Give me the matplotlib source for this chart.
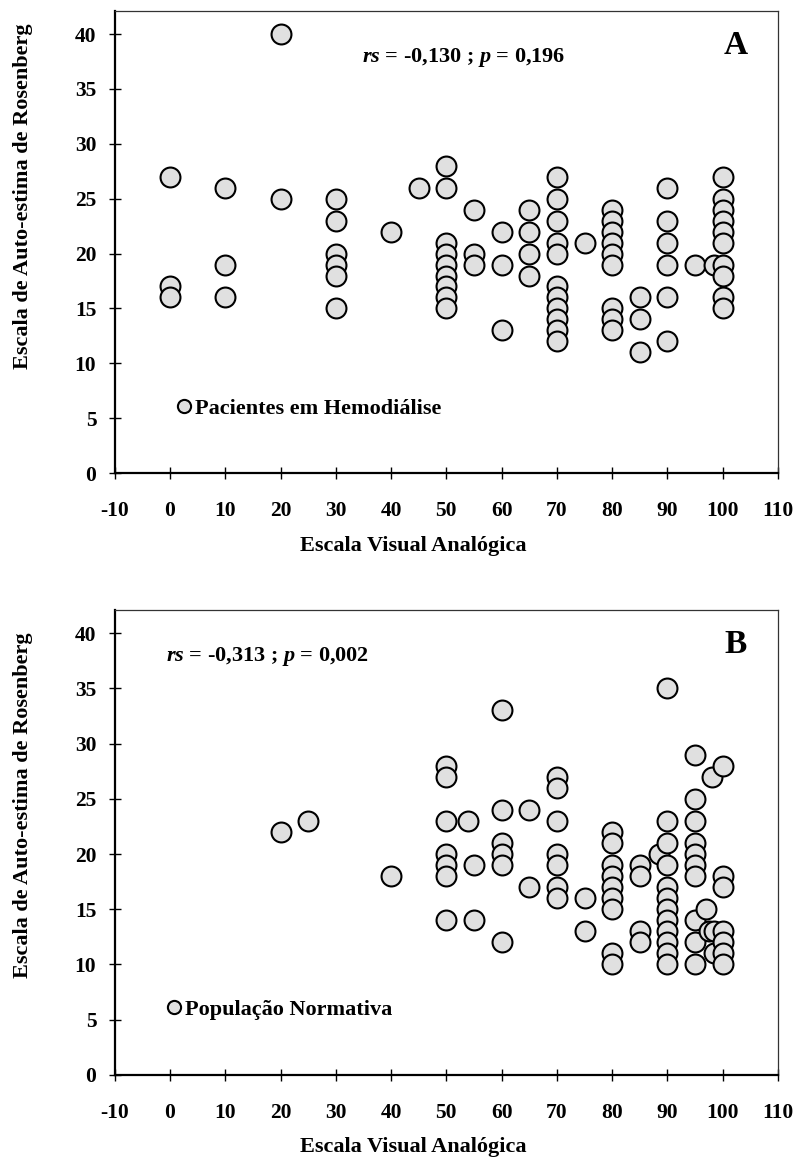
import matplotlib
matplotlib.use("Agg")
import matplotlib.pyplot as plt
from matplotlib.lines import Line2D

plt.rcParams["font.family"] = "Liberation Serif"
plt.rcParams["font.weight"] = "bold"
plt.rcParams["axes.unicode_minus"] = False
plt.rcParams["mathtext.fontset"] = "custom"
plt.rcParams["mathtext.it"] = "Liberation Serif:italic:bold"
plt.rcParams["mathtext.rm"] = "Liberation Serif:bold"

# Panel A - Pacientes em Hemodiálise
eva_a = [0, 0, 0, 10, 10, 10, 20, 20, 30, 30, 30, 30, 30, 30, 40, 45,
         50, 50, 50, 50, 50, 50, 50, 50, 50, 55, 55, 55, 60, 60, 60, 65, 65, 65, 65,
         70, 70, 70, 70, 70, 70, 70, 70, 70, 70, 70, 75,
         80, 80, 80, 80, 80, 80, 80, 80, 80, 85, 85, 85,
         90, 90, 90, 90, 90, 90, 95, 98.5,
         100, 100, 100, 100, 100, 100, 100, 100, 100, 100]
rse_a = [27, 17, 16, 26, 19, 16, 40, 25, 25, 23, 20, 19, 18, 15, 22, 26,
         28, 26, 21, 20, 19, 18, 17, 16, 15, 24, 20, 19, 22, 19, 13, 24, 22, 20, 18,
         27, 25, 23, 21, 20, 17, 16, 15, 14, 13, 12, 21,
         24, 23, 22, 21, 20, 19, 15, 14, 13, 16, 14, 11,
         26, 23, 21, 19, 16, 12, 19, 19,
         27, 25, 24, 23, 22, 21, 19, 18, 16, 15]

# Panel B - População Normativa
eva_b = [20, 25, 40, 50, 50, 50, 50, 50, 50, 50, 54, 55, 55,
         60, 60, 60, 60, 60, 60, 65, 65, 70, 70, 70, 70, 70, 70, 70, 75, 75,
         80, 80, 80, 80, 80, 80, 80, 80, 80, 85, 85, 85, 85, 88.5,
         90, 90, 90, 90, 90, 90, 90, 90, 90, 90, 90, 90,
         95, 95, 95, 95, 95, 95, 95, 95, 95, 95, 97, 98, 97.5, 98.5, 98.5,
         100, 100, 100, 100, 100, 100, 100]
rse_b = [22, 23, 18, 28, 27, 23, 20, 19, 18, 14, 23, 19, 14,
         33, 24, 21, 20, 19, 12, 24, 17, 27, 26, 23, 20, 19, 17, 16, 16, 13,
         22, 21, 19, 18, 17, 16, 15, 11, 10, 19, 18, 13, 12, 20,
         35, 23, 21, 19, 17, 16, 15, 14, 13, 12, 11, 10,
         29, 25, 23, 21, 20, 19, 18, 14, 12, 10, 15, 27, 13, 13, 11,
         28, 18, 17, 13, 12, 11, 10]

xticks = list(range(-10, 111, 10))
yticks = list(range(0, 41, 5))

fig = plt.figure(figsize=(7.98, 11.64), dpi=100)
ax_a = fig.add_axes([0.1437, 0.5936, 0.8313, 0.3969])
ax_b = fig.add_axes([0.1437, 0.0765, 0.8313, 0.3995])

panels = [
    (ax_a, eva_a, rse_a, "Pacientes em Hemodiálise", r"$rs$ = -0,130 ; $p$ = 0,196",
     0.3725, "A", 0.1095, 0.60, -0.137),
    (ax_b, eva_b, rse_b, "População Normativa", r"$rs$ = -0,313 ; $p$ = 0,002",
     0.077, "B", 0.094, 0.58, -0.133),
]

for ax, x, y, name, stat, stat_x, letter, leg_x, ylab_y, xlab_y in panels:
    ax.scatter(x, y, s=205, facecolor="#e0e0e0", edgecolor="black", linewidth=1.5, zorder=3)
    ax.set_xlim(-10, 110)
    ax.set_ylim(0, 42.1)
    ax.set_xticks(xticks)
    ax.set_yticks(yticks)
    ax.tick_params(direction="inout", length=8.5, width=1, labelsize=15.5)
    ax.tick_params(axis="x", pad=16)
    ax.tick_params(axis="y", pad=9)
    for lab in ax.get_xticklabels() + ax.get_yticklabels():
        lab.set_fontweight("bold")
    for side in ["left", "bottom"]:
        ax.spines[side].set_linewidth(1.6)
    for side in ["top", "right"]:
        ax.spines[side].set_linewidth(0.9)
        ax.spines[side].set_color("#333333")
    ax.set_xlabel("Escala Visual Analógica", fontsize=16, fontweight="bold")
    ax.set_ylabel("Escala de Auto-estima de Rosenberg", fontsize=16, fontweight="bold")
    ax.xaxis.set_label_coords(0.45, xlab_y)
    ax.yaxis.set_label_coords(-0.123, ylab_y)
    ax.text(stat_x, 0.90, stat, transform=ax.transAxes, fontsize=16,
            fontweight="bold", ha="left", va="center")
    ax.text(0.936, 0.926, letter, transform=ax.transAxes, fontsize=24,
            fontweight="bold", ha="center", va="center")
    handle = Line2D([], [], linestyle="none", marker="o", markersize=9.5,
                    markerfacecolor="#e0e0e0", markeredgecolor="black", markeredgewidth=1.5)
    ax.legend([handle], [name], loc="center left", bbox_to_anchor=(leg_x - 0.015, 0.14),
              frameon=False, handlelength=0.6, handletextpad=0.2, borderpad=0,
              borderaxespad=0, prop={"size": 16, "weight": "bold"})

fig.savefig("out.png", dpi=100)
